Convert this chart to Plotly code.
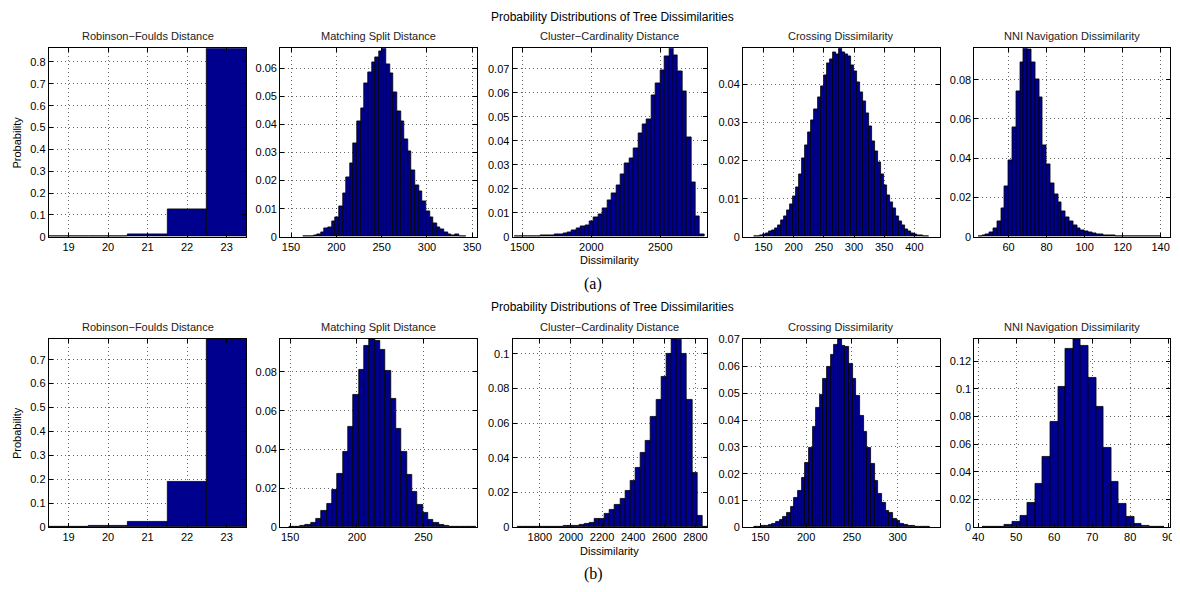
import plotly.graph_objects as go
from plotly.subplots import make_subplots

# ---------------- data (probabilities per histogram bin) ----------------
SUPTITLE = "Probability Distributions of Tree Dissimilarities"
PANEL_TITLES = ["Robinson\u2212Foulds Distance", "Matching Split Distance",
                "Cluster\u2212Cardinality Distance", "Crossing Dissimilarity",
                "NNI Navigation Dissimilarity"]

RF_CENTERS = [19, 20, 21, 22, 23]
RF_A = [0.0002, 0.0015, 0.0105, 0.127, 0.8625]
RF_B = [0.0005, 0.004, 0.022, 0.188, 0.787]

MS_A_CENTERS = list(range(165, 342, 4))
MS_A = [0.0001, 0.0001, 0.0003, 0.0005, 0.001, 0.0015, 0.003, 0.0035, 0.0055, 0.007,
        0.011, 0.0155, 0.021, 0.026, 0.0333, 0.041, 0.0458, 0.0548, 0.0586, 0.0621,
        0.0638, 0.066, 0.0671, 0.0615, 0.0583, 0.0513, 0.0446, 0.041, 0.0347, 0.0306,
        0.0237, 0.0182, 0.0163, 0.0126, 0.0091, 0.0068, 0.0047, 0.0035, 0.0027, 0.0015,
        0.001, 0.0005, 0.001, 0.0002, 0.0001]

CC_A_CENTERS = list(range(1460, 2805, 32))
CC_A = [0.0001, 0.0001, 0.0001, 0.0002, 0.0002, 0.0003, 0.0004, 0.0005, 0.0007, 0.0009,
        0.0012, 0.0016, 0.002, 0.0027, 0.0035, 0.0044, 0.0048, 0.0065, 0.008, 0.0095,
        0.012, 0.015, 0.018, 0.0215, 0.026, 0.0305, 0.0325, 0.037, 0.043, 0.047,
        0.049, 0.059, 0.064, 0.0695, 0.075, 0.0785, 0.0755, 0.069, 0.0605, 0.0415,
        0.0225, 0.0085, 0.001]

CR_A_CENTERS = list(range(137, 423, 5))
CR_A = [0.0001, 0.0002, 0.0003, 0.0006, 0.001, 0.0014, 0.0017, 0.0022, 0.003, 0.0042,
        0.0055, 0.007, 0.0085, 0.0105, 0.013, 0.0165, 0.0205, 0.024, 0.0275, 0.0305,
        0.0335, 0.0365, 0.0395, 0.0425, 0.0455, 0.0465, 0.0485, 0.048, 0.0495, 0.0485,
        0.048, 0.0475, 0.045, 0.0435, 0.0405, 0.038, 0.0355, 0.0325, 0.029, 0.025,
        0.0225, 0.0195, 0.0165, 0.0135, 0.011, 0.009, 0.0075, 0.0055, 0.004, 0.003,
        0.002, 0.0015, 0.001, 0.0007, 0.0005, 0.0003, 0.0002, 0.0001]

NNI_A_CENTERS = list(range(45, 140, 2))
NNI_A = [0.0003, 0.0005, 0.001, 0.0025, 0.0042, 0.008, 0.0145, 0.0255, 0.039, 0.056,
         0.074, 0.089, 0.096, 0.0955, 0.089, 0.080, 0.071, 0.0467, 0.037, 0.027,
         0.0215, 0.0173, 0.013, 0.0097, 0.0077, 0.006, 0.0044, 0.0033, 0.0027, 0.0022,
         0.0017, 0.0013, 0.001, 0.0008, 0.0006, 0.0005, 0.0004, 0.0003, 0.0002, 0.0002,
         0.0001, 0.0001, 0.0001, 0.0001, 0.0, 0.0, 0.0001, 0.0]

MS_B_CENTERS = [151.5 + 4 * i for i in range(35)]
MS_B = [0.0001, 0.0003, 0.0007, 0.0012, 0.0025, 0.0045, 0.0085, 0.012, 0.0195, 0.0277,
        0.039, 0.0515, 0.068, 0.081, 0.0935, 0.097, 0.096, 0.0915, 0.0805, 0.066,
        0.0505, 0.039, 0.027, 0.018, 0.0115, 0.0075, 0.0037, 0.0023, 0.0012, 0.0005,
        0.0003, 0.0001, 0.0001, 0.0, 0.0001]

CC_B_CENTERS = list(range(1673, 2862, 33))
CC_B = [0.0001, 0.0001, 0.0001, 0.0001, 0.0002, 0.0002, 0.0003, 0.0004, 0.0005, 0.0007,
        0.0007, 0.001, 0.0015, 0.0022, 0.0028, 0.0048, 0.005, 0.0078, 0.0102, 0.013,
        0.0165, 0.021, 0.027, 0.0345, 0.043, 0.050, 0.0635, 0.0735, 0.087, 0.100,
        0.1087, 0.1083, 0.100, 0.0735, 0.0315, 0.0068, 0.0005]

CR_B_CENTERS = list(range(145, 334, 4))
CR_B = [0.0001, 0.0002, 0.0004, 0.0006, 0.0009, 0.0014, 0.0021, 0.0027, 0.0038, 0.0053,
        0.0075, 0.0108, 0.0137, 0.0185, 0.024, 0.0295, 0.0375, 0.0445, 0.0495, 0.0555,
        0.060, 0.0645, 0.068, 0.0703, 0.0678, 0.0672, 0.061, 0.0555, 0.049, 0.0415,
        0.0355, 0.0295, 0.0235, 0.0175, 0.0125, 0.0093, 0.0063, 0.0053, 0.0033, 0.0023,
        0.0012, 0.0008, 0.0007, 0.0004, 0.0002, 0.0001, 0.0001, 0.0]

NNI_B_CENTERS = list(range(42, 89, 2))
NNI_B = [0.0001, 0.0002, 0.0005, 0.0015, 0.004, 0.0085, 0.0178, 0.0315, 0.0505, 0.076,
         0.1015, 0.129, 0.136, 0.131, 0.108, 0.087, 0.0575, 0.033, 0.017, 0.0072,
         0.0025, 0.0007, 0.0002, 0.0001]

# ---------------- figure ----------------
W, H = 1180, 592
OFF = 8  # page body margin of the browser
BAR_COLOR = "#00008F"


def px_x(p):
    return (p - OFF) / W


def px_y(p):
    return 1 - (p - OFF) / H


# (centers, values, bin width, x range, x dtick, y dtick)
panels = [
    (RF_CENTERS, RF_A, 1, [18.5, 23.5], 1, 0.1),
    (MS_A_CENTERS, MS_A, 4, [138, 355], 50, 0.01),
    (CC_A_CENTERS, CC_A, 32, [1430, 2840], 500, 0.01),
    (CR_A_CENTERS, CR_A, 5, [116, 442], 50, 0.01),
    (NNI_A_CENTERS, NNI_A, 2, [42, 145], 20, 0.02),
    (RF_CENTERS, RF_B, 1, [18.5, 23.5], 1, 0.1),
    (MS_B_CENTERS, MS_B, 4, [142.5, 290], 50, 0.02),
    (CC_B_CENTERS, CC_B, 33, [1625, 2876], 200, 0.02),
    (CR_B_CENTERS, CR_B, 4, [131, 346], 50, 0.01),
    (NNI_B_CENTERS, NNI_B, 2, [39, 90.5], 10, 0.02),
]

# pixel boxes of plot areas (page coordinates)
col_px = [(46, 245), (279, 477), (513, 709), (745, 943), (978, 1175)]
row_px = [(44, 236), (340, 532)]

fig = make_subplots(rows=2, cols=5)
FONT = "Liberation Sans, Arial, Helvetica, sans-serif"

for i, (cx, vals, bw, xr, xd, yd) in enumerate(panels):
    r, c = i // 5, i % 5
    fig.add_trace(go.Bar(x=cx, y=vals, width=bw,
                         marker=dict(color=BAR_COLOR, line=dict(color="black", width=0.8)),
                         showlegend=False, hoverinfo="x+y"),
                  row=r + 1, col=c + 1)
    n = i + 1
    xa = "xaxis" if n == 1 else f"xaxis{n}"
    ya = "yaxis" if n == 1 else f"yaxis{n}"
    x0, x1 = col_px[c]
    y0, y1 = row_px[r]
    common = dict(showline=True, linecolor="black", linewidth=1, mirror="ticks",
                  ticks="inside", ticklen=4, tickcolor="black",
                  showgrid=True, gridcolor="rgba(0,0,0,0.6)", griddash="1px,3px",
                  gridwidth=1, zeroline=False,
                  tickfont=dict(family=FONT, size=11, color="black"))
    fig.update_layout({
        xa: dict(domain=[px_x(x0), px_x(x1)], range=xr, tick0=0, dtick=xd, **common),
        ya: dict(domain=[px_y(y1), px_y(y0)], range=[0, max(vals)], tick0=0, dtick=yd,
                 **common),
    })

ann = []
for r, (y0, y1) in enumerate(row_px):
    for c, (x0, x1) in enumerate(col_px):
        ann.append(dict(text=PANEL_TITLES[c], x=px_x((x0 + x1) / 2), y=px_y(y0 - 12.5),
                        xref="paper", yref="paper", showarrow=False, xanchor="center",
                        yanchor="middle", font=dict(family=FONT, size=11, color="#222")))
    ann.append(dict(text=SUPTITLE, x=px_x(614), y=px_y(y0 - 32), xref="paper", yref="paper",
                    showarrow=False, xanchor="center", yanchor="middle",
                    font=dict(family=FONT, size=12, color="black")))
    ann.append(dict(text="Probability", x=px_x(14), y=px_y((y0 + y1) / 2), xref="paper",
                    yref="paper", showarrow=False, textangle=-90, xanchor="center",
                    yanchor="middle", font=dict(family=FONT, size=11, color="black")))
    ann.append(dict(text="Dissimilarity", x=px_x(611), y=px_y(y1 + 24), xref="paper",
                    yref="paper", showarrow=False, xanchor="center", yanchor="middle",
                    font=dict(family=FONT, size=11, color="black")))
    ann.append(dict(text="(a)" if r == 0 else "(b)", x=px_x(594), y=px_y(y1 + 48),
                    xref="paper", yref="paper", showarrow=False, xanchor="center",
                    yanchor="middle",
                    font=dict(family="Liberation Serif, Times New Roman, serif", size=16,
                              color="black")))

fig.update_layout(width=W, height=H, margin=dict(l=0, r=0, t=0, b=0),
                  paper_bgcolor="white", plot_bgcolor="white", bargap=0,
                  annotations=ann, font=dict(family=FONT, color="black"))

fig.write_html("out.html")
